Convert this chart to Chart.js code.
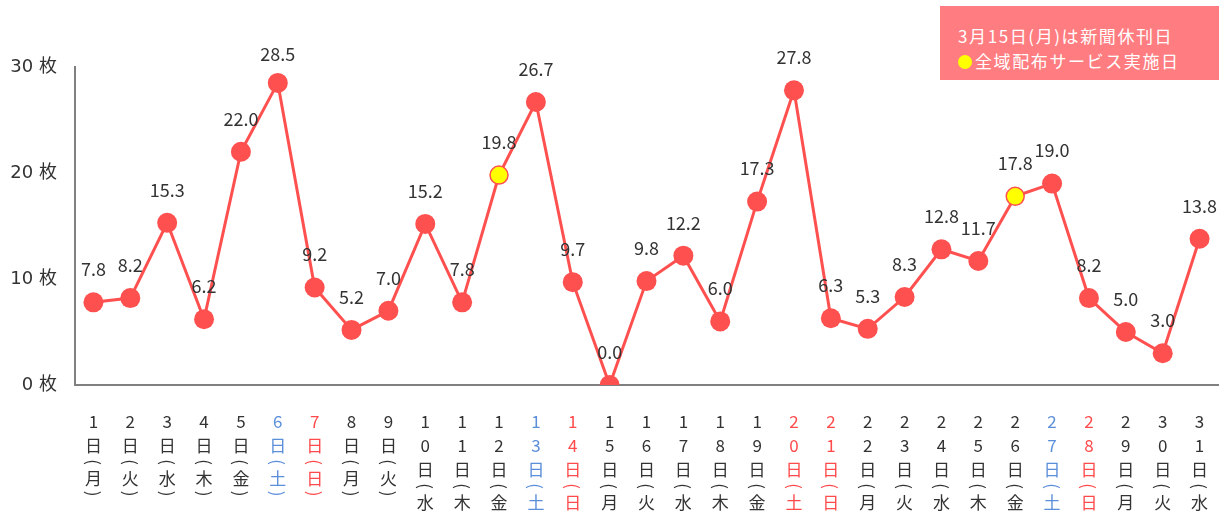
<!DOCTYPE html>
<html>
<head>
<meta charset="utf-8">
<script src="https://cdn.jsdelivr.net/npm/chart.js@4"></script>
<style>
html,body{margin:0;padding:0;background:#fff;overflow:hidden;}
#wrap{position:relative;width:1221px;height:515px;}
#legend{position:absolute;left:940px;top:6px;width:279px;height:74px;background:#ff7c80;color:#fff;
font-family:"Noto Sans CJK JP","Noto Sans",sans-serif;font-size:17px;letter-spacing:1.6px;}
#legend .l1{position:absolute;left:18px;top:19px;line-height:22px;white-space:nowrap;}
#legend .l2{position:absolute;left:18px;top:44px;line-height:22px;white-space:nowrap;}
#legend .dot{display:inline-block;width:14px;height:14px;border-radius:50%;background:#ffff00;vertical-align:-1px;margin-right:3px;}
</style>
</head>
<body>
<div id="wrap">
<canvas id="c" width="1221" height="515"></canvas>
<div id="legend"><div class="l1">3月15日(月)は新聞休刊日</div><div class="l2"><span class="dot"></span>全域配布サービス実施日</div></div>
</div>
<script>
const days = ["1","2","3","4","5","6","7","8","9","10","11","12","13","14","15","16","17","18","19","20","21","22","23","24","25","26","27","28","29","30","31"];
const weekdays = ["月","火","水","木","金","土","日","月","火","水","木","金","土","日","月","火","水","木","金","土","日","月","火","水","木","金","土","日","月","火","水"];
const dayType = ["w","w","w","w","w","sat","sun","w","w","w","w","w","sat","sun","w","w","w","w","w","hol","sun","w","w","w","w","w","sat","sun","w","w","w"];
const values = [7.8,8.2,15.3,6.2,22.0,28.5,9.2,5.2,7.0,15.2,7.8,19.8,26.7,9.7,0.0,9.8,12.2,6.0,17.3,27.8,6.3,5.3,8.3,12.8,11.7,17.8,19.0,8.2,5.0,3.0,13.8];
const specialDays = [12,26];
const yTicks = [0,10,20,30];

const labels = days.map((d,i)=> d+"日("+weekdays[i]+")");
const RED = "#ff5050";
const FONT = '"Noto Sans CJK JP","Noto Sans",sans-serif';
const labelColor = (i)=> dayType[i]==="sat" ? "#5b8fd9" : (dayType[i]==="sun"||dayType[i]==="hol") ? "#ff4b4b" : "#333333";

const dataLabels = {
  id:"dataLabels",
  afterDatasetsDraw(chart){
    const ctx = chart.ctx;
    const meta = chart.getDatasetMeta(0);
    ctx.save();
    ctx.font = '18px ' + FONT;
    ctx.fillStyle = "#333333";
    ctx.textAlign = "center";
    ctx.textBaseline = "middle";
    meta.data.forEach((pt,i)=>{
      ctx.fillText(values[i].toFixed(1), pt.x, Math.max(pt.y - 33, 54));
    });
    ctx.restore();
  }
};

// stacked (vertical) category labels drawn at the x scale's tick positions
const stackedLabels = {
  id:"stackedLabels",
  afterDraw(chart){
    const ctx = chart.ctx;
    const xs = chart.scales.x;
    const base = xs.top + 37;
    ctx.save();
    ctx.font = '17px ' + FONT;
    ctx.textAlign = "center";
    ctx.textBaseline = "middle";
    days.forEach((d,i)=>{
      const x = xs.getPixelForValue(i);
      ctx.fillStyle = labelColor(i);
      let y = base;
      const chars = d.split("");
      chars.forEach((ch,k)=>{ ctx.fillText(ch,x,y); if(k<chars.length-1) y+=24; });
      y += 24; ctx.fillText("日",x,y);
      y += 16; drawRot(ctx,"(",x,y);
      y += 17; ctx.fillText(weekdays[i],x,y);
      y += 14.5; drawRot(ctx,")",x,y);
    });
    ctx.restore();
  }
};
function drawRot(ctx,ch,x,y){
  ctx.save();
  ctx.translate(x,y);
  ctx.rotate(Math.PI/2);
  ctx.fillText(ch,0,0);
  ctx.restore();
}

new Chart(document.getElementById("c"),{
  type:"line",
  data:{labels:labels,datasets:[{
    data:values,
    borderColor:RED,
    borderWidth:3,
    tension:0,
    pointRadius:(c)=> specialDays.includes(c.dataIndex+1) ? 9 : 10,
    pointHoverRadius:10,
    pointBackgroundColor:(c)=> specialDays.includes(c.dataIndex+1) ? "#ffff00" : RED,
    pointBorderColor:RED,
    pointBorderWidth:(c)=> specialDays.includes(c.dataIndex+1) ? 1.5 : 0
  }]},
  options:{
    responsive:false,
    animation:false,
    devicePixelRatio:1,
    layout:{autoPadding:false,padding:{left:0,right:3,top:67,bottom:0}},
    plugins:{legend:{display:false},tooltip:{enabled:false}},
    scales:{
      x:{
        offset:true,
        grid:{display:false,drawTicks:false},
        border:{display:true,color:"#808080",width:2},
        ticks:{display:false,autoSkip:false},
        afterFit:(s)=>{s.height=130;}
      },
      y:{
        min:0,max:30,
        afterBuildTicks:(s)=>{s.ticks = yTicks.map(v=>({value:v}));},
        grid:{display:false,drawTicks:false},
        border:{display:true,color:"#808080",width:2},
        ticks:{
          padding:18,color:"#333333",
          font:{family:'"DejaVu Sans","Noto Sans CJK JP",sans-serif',size:18},
          callback:(v)=> v+" 枚"
        },
        afterFit:(s)=>{s.width=75;}
      }
    }
  },
  plugins:[dataLabels,stackedLabels]
});
</script>
</body>
</html>
